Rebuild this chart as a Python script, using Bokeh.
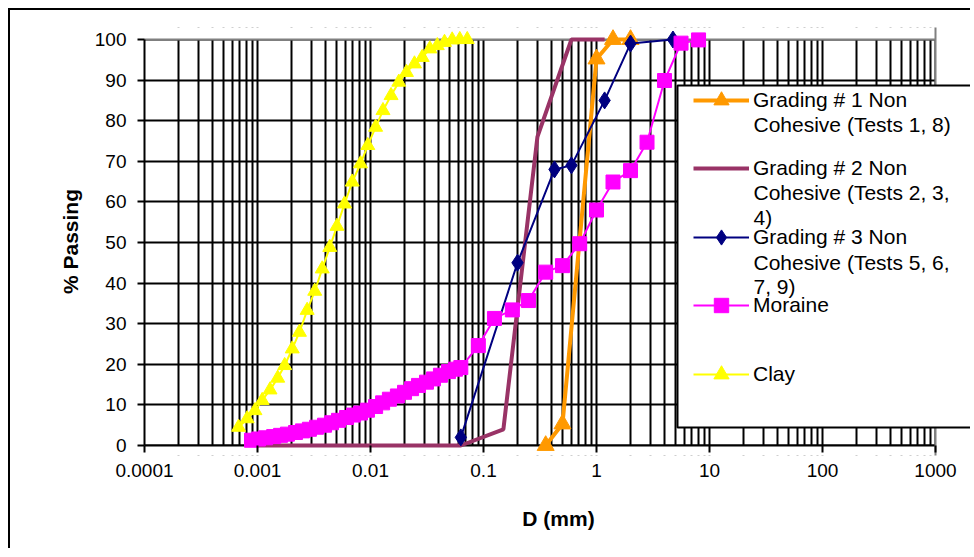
import math
from bokeh.plotting import figure
from bokeh.models import (Range1d, FixedTicker, Legend, LegendItem, Label,
                          BoxAnnotation, Span)
from bokeh.embed import file_html
from bokeh.resources import INLINE

# ---------------- data ----------------
x_ticks = [0.0001, 0.001, 0.01, 0.1, 1, 10, 100, 1000]
x_tick_labels = ["0.0001", "0.001", "0.01", "0.1", "1", "10", "100", "1000"]
y_ticks = [0, 10, 20, 30, 40, 50, 60, 70, 80, 90, 100]

series_names = [
    "Grading # 1 Non\nCohesive (Tests 1, 8)",
    "Grading # 2 Non\nCohesive (Tests 2, 3,\n4)",
    "Grading # 3 Non\nCohesive (Tests 5, 6,\n7, 9)",
    "Moraine",
    "Clay",
]

g1_d = [0.355, 0.5, 1.0, 1.4, 2.0]
g1_p = [0, 5.3, 95.2, 100, 100]

g2_d = [0.001, 0.063, 0.15, 0.3, 0.6, 1.18]
g2_p = [0, 0, 4, 76, 100, 100]

g3_d = [0.063, 0.2, 0.425, 0.6, 1.18, 2.0, 4.75]
g3_p = [2, 45, 68, 69, 85, 99, 100]

mor_d = [0.000885, 0.00102, 0.00118, 0.00139, 0.0016, 0.00184, 0.00217, 0.0025,
         0.00288, 0.00333, 0.00392, 0.00452, 0.00521, 0.00614, 0.00708, 0.00816,
         0.0094, 0.0111, 0.0128, 0.0147, 0.0173, 0.020, 0.0231, 0.0266, 0.0313,
         0.0361, 0.0416, 0.049, 0.0565,
         0.063, 0.09, 0.125, 0.18, 0.25, 0.355, 0.5, 0.71, 1.0, 1.4, 2.0, 2.8,
         4.0, 5.6, 8.0]
mor_p = [1.3, 1.6, 1.9, 2.2, 2.5, 2.8, 3.2, 3.6,
         4.0, 4.5, 5.0, 5.6, 6.2, 6.9, 7.5, 8.0,
         8.7, 9.6, 10.5, 11.4, 12.2, 13.1, 14.0, 14.8, 15.6,
         16.4, 17.3, 18.2, 18.8,
         19.2, 24.6, 31.3, 33.4, 35.7, 42.7, 44.3, 49.7, 58.0, 64.9, 67.7, 74.7,
         89.9, 99.1, 99.9]

clay_d = [0.00068, 0.00081, 0.00095, 0.0011, 0.00129, 0.00151, 0.00174, 0.00203,
          0.00235, 0.00275, 0.00321, 0.00374, 0.00436, 0.00505, 0.00589, 0.00689,
          0.00816, 0.00947, 0.0111, 0.0129, 0.0152, 0.0178, 0.0208, 0.0245,
          0.0287, 0.0335, 0.0390, 0.0452, 0.0528, 0.0617, 0.0718]
clay_p = [4.5, 6.6, 8.6, 11.1, 13.7, 16.6, 19.7, 23.8,
          27.9, 33.3, 38.0, 43.5, 48.8, 54.0, 59.5, 64.9,
          69.4, 73.9, 78.4, 82.5, 86.2, 89.5, 91.9, 94.0,
          95.6, 97.7, 98.5, 99.3, 99.9, 100, 100]

# ---------------- layout (page px) ----------------
FONT = "Liberation Sans"
ORIGIN = 10                         # canvas origin on page (8px margin + 2px border)
PL, PT, PR, PB = 144, 39, 935, 445  # plot area on page
FRAME_R, FRAME_T, FRAME_B = 972, 27, 455   # frame padded so markers are not cut
DEC = (PR - PL) / 7.0               # px per decade
PPU = (PB - PT) / float(y_ticks[-1] - y_ticks[0])   # px per % unit
W, H = 962, 540

x_end = 10 ** (math.log10(x_ticks[0]) + (FRAME_R - PL) / DEC)
y_start = y_ticks[0] - (FRAME_B - PB) / PPU
y_end = y_ticks[-1] + (PT - FRAME_T) / PPU

p = figure(width=W, height=H, x_axis_type="log",
           x_range=Range1d(x_ticks[0], x_end),
           y_range=Range1d(y_start, y_end),
           output_backend="svg", toolbar_location=None,
           min_border_left=PL - ORIGIN, min_border_right=W - (FRAME_R - ORIGIN),
           min_border_top=FRAME_T - ORIGIN, min_border_bottom=H - (FRAME_B - ORIGIN),
           background_fill_color="white", border_fill_color="white")
p.styles = {"margin-left": "8px", "margin-top": "8px",
            "border-left": "2px solid black", "border-top": "2px solid black"}
p.outline_line_color = None

minor = [m * t for t in x_ticks[:-1] for m in range(2, 10)]
p.xaxis.ticker = FixedTicker(ticks=x_ticks, minor_ticks=minor)
p.xaxis.bounds = (x_ticks[0], x_ticks[-1])
p.xaxis.major_label_overrides = {t: l for t, l in zip(x_ticks, x_tick_labels)}
p.yaxis.ticker = FixedTicker(ticks=y_ticks)
p.yaxis.bounds = (y_ticks[0], y_ticks[-1])

for ax in (p.xaxis[0], p.yaxis[0]):
    ax.axis_line_color = "black"
    ax.axis_line_width = 2
    ax.major_tick_line_color = "black"
    ax.major_tick_line_width = 2
    ax.major_tick_out = 7
    ax.major_tick_in = 0
    ax.minor_tick_line_color = None
    ax.minor_tick_in = 0
    ax.minor_tick_out = 0
    ax.major_label_text_font = FONT
    ax.major_label_text_font_size = "19px"
    ax.major_label_text_color = "black"
    ax.axis_label_text_font = FONT
    ax.axis_label_text_font_size = "21px"
    ax.axis_label_text_font_style = "bold"
    ax.axis_label_text_color = "black"
# the x axis sits at the padded frame bottom; its ticks are shifted up to y = 0
# and the axis line itself is drawn as a span at y = 0
p.xaxis.axis_line_color = None
p.xaxis.major_tick_in = FRAME_B - PB
p.xaxis.major_tick_out = 7 - (FRAME_B - PB)
p.xaxis.axis_label = "D (mm)"
p.yaxis.axis_label = "% Passing"
p.xaxis.major_label_standoff = 8
p.yaxis.major_label_standoff = 11
p.xaxis.axis_label_standoff = 27
p.yaxis.axis_label_standoff = 10

p.xgrid.grid_line_color = "black"
p.xgrid.grid_line_width = 2
p.xgrid.minor_grid_line_color = "black"
p.xgrid.minor_grid_line_width = 2
p.ygrid.grid_line_color = "black"
p.ygrid.grid_line_width = 2

# white margins around the plot area (drawn over grid lines, under the data)
p.add_layout(BoxAnnotation(bottom=y_ticks[-1], fill_color="white", fill_alpha=1.0,
                           line_color=None, level="underlay"))
p.add_layout(BoxAnnotation(top=y_ticks[0], fill_color="white", fill_alpha=1.0,
                           line_color=None, level="underlay"))
p.add_layout(Span(location=y_ticks[-1], dimension="width", line_color="#808080",
                  line_width=2, level="underlay"))
p.add_layout(Span(location=y_ticks[0], dimension="width", line_color="black",
                  line_width=2, level="underlay"))
p.add_layout(BoxAnnotation(left=x_ticks[-1], fill_color="white", fill_alpha=1.0,
                           line_color=None, level="underlay"))
p.add_layout(Span(location=x_ticks[-1], dimension="height", line_color="#808080",
                  line_width=2, level="underlay"))

ORANGE, MAROON, NAVY, MAGENTA, YELLOW = "#FF9900", "#993366", "#000080", "#FF00FF", "#FFFF00"

l1 = p.line(g1_d, g1_p, line_color=ORANGE, line_width=4)
m1 = p.scatter(g1_d, g1_p, marker="triangle", size=17, fill_color=ORANGE, line_color=ORANGE)
l2 = p.line(g2_d, g2_p, line_color=MAROON, line_width=4)
l3 = p.line(g3_d, g3_p, line_color=NAVY, line_width=2)
m3 = p.scatter(g3_d, g3_p, marker="diamond", size=17, fill_color=NAVY, line_color=NAVY)
l4 = p.line(mor_d, mor_p, line_color=MAGENTA, line_width=2)
m4 = p.scatter(mor_d, mor_p, marker="square", size=14, fill_color=MAGENTA, line_color=MAGENTA)
l5 = p.line(clay_d, clay_p, line_color=YELLOW, line_width=2)
m5 = p.scatter(clay_d, clay_p, marker="triangle", size=14, fill_color=YELLOW, line_color=YELLOW)

# ---------------- legend (frame-relative screen units) ----------------
box = BoxAnnotation(left=677 - PL, right=971 - PL, bottom=FRAME_B - 427, top=FRAME_B - 85,
                    left_units="screen", right_units="screen",
                    bottom_units="screen", top_units="screen",
                    fill_color="white", fill_alpha=1.0,
                    line_color="black", line_width=2, line_alpha=1.0)
p.add_layout(box)

renderers = [[l1, m1], [l2], [l3, m3], [l4, m4], [l5, m5]]
centers = [99.5, 167.5, 237, 305, 373.5]     # page y of first text line
gheights = [38, 26, 38, 36, 38]
for name, rs, c, gh in zip(series_names, renderers, centers, gheights):
    lines = name.split("\n")
    lg = Legend(items=[LegendItem(label=lines[0], renderers=rs)],
                location=(693 - PL, FRAME_B - c - gh / 2),
                padding=0, margin=0, spacing=0,
                glyph_width=56, glyph_height=gh, label_height=gh,
                label_standoff=4, border_line_color=None,
                background_fill_alpha=0.0,
                label_text_font=FONT, label_text_font_size="21px",
                label_text_color="black", label_text_baseline="middle")
    p.add_layout(lg)
    for k, extra in enumerate(lines[1:]):
        p.add_layout(Label(x=753 - PL, y=FRAME_B - (c + 24.5 * (k + 1)),
                           x_units="screen", y_units="screen", text=extra,
                           text_font=FONT, text_font_size="21px",
                           text_color="black", text_baseline="middle",
                           text_align="left"))

open("out.html", "w").write(file_html(p, INLINE))
